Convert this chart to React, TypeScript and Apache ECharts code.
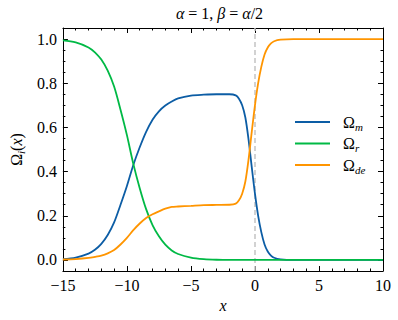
import React, { useEffect, useRef } from "react";
import * as echarts from "echarts";

const xs = [-15, -14, -13, -12.5, -12, -11.5, -11, -10.5, -10, -9.5, -9, -8.5, -8, -7.5, -7, -6.5, -6, -5, -4, -3, -2, -1.5, -1.25, -1, -0.75, -0.5, -0.25, 0, 0.25, 0.5, 0.75, 1, 1.25, 1.5, 2, 3, 5, 10];
const omegaM = [0.004, 0.011, 0.029, 0.046, 0.073, 0.113, 0.17, 0.25, 0.335, 0.43, 0.51, 0.58, 0.635, 0.673, 0.699, 0.717, 0.731, 0.744, 0.748, 0.75, 0.75, 0.745, 0.73, 0.7, 0.645, 0.545, 0.42, 0.3, 0.2, 0.125, 0.07, 0.038, 0.02, 0.01, 0.003, 0, 0, 0];
const omegaR = [0.994, 0.985, 0.962, 0.94, 0.907, 0.857, 0.785, 0.68, 0.565, 0.435, 0.325, 0.23, 0.158, 0.107, 0.069, 0.043, 0.027, 0.011, 0.004, 0.001, 0, 0, 0, 0, 0, 0, 0, 0, 0, 0, 0, 0, 0, 0, 0, 0, 0, 0];
const omegaDE = [0.002, 0.004, 0.009, 0.014, 0.02, 0.03, 0.045, 0.07, 0.1, 0.135, 0.165, 0.19, 0.207, 0.22, 0.232, 0.24, 0.242, 0.245, 0.248, 0.249, 0.25, 0.255, 0.27, 0.3, 0.355, 0.455, 0.58, 0.7, 0.8, 0.875, 0.93, 0.962, 0.98, 0.99, 0.997, 1, 1, 1];
const seriesNames = ["m", "r", "de"];
const seriesColors = ["#0C5DA5", "#00B945", "#FF9500"];
const yMajor = [0, 0.2, 0.4, 0.6, 0.8, 1.0];
const yMinor = [0.05, 0.1, 0.15, 0.25, 0.3, 0.35, 0.45, 0.5, 0.55, 0.65, 0.7, 0.75, 0.85, 0.9, 0.95];
const titleText = "{i|α} = 1, {i|β} = {i|α}/2";

const FONT = "Liberation Serif";

export default function App() {
  const ref = useRef<HTMLDivElement>(null);
  useEffect(() => {
    if (!ref.current) return;
    const chart = echarts.init(ref.current, null, { renderer: "svg" });
    const valuesList = [omegaM, omegaR, omegaDE];
    const common = { color: "#000", fontFamily: FONT, fontSize: 16 };
    const xAxisBase = (pos: string, showLabel: boolean) => ({
      type: "value",
      position: pos,
      min: -15,
      max: 10,
      interval: 5,
      axisLine: { show: true, onZero: false, lineStyle: { color: "#000", width: 1 } },
      axisTick: { show: true, inside: true, length: 5, lineStyle: { color: "#000" } },
      minorTick: { show: true, splitNumber: 5, length: 2.5, lineStyle: { color: "#000" } },
      splitLine: { show: false },
      minorSplitLine: { show: false },
      axisLabel: {
        show: showLabel,
        ...common,
        margin: 6,
        formatter: (v: number) => String(v).replace("-", "\u2212"),
      },
    });
    const yAxisBase = (pos: string, major: boolean, showLabel: boolean) => ({
      type: "value",
      position: pos,
      min: -0.05,
      max: 1.05,
      axisLine: { show: major, onZero: false, lineStyle: { color: "#000", width: 1 } },
      axisTick: {
        show: true,
        inside: true,
        length: major ? 5 : 2.5,
        customValues: major ? yMajor : yMinor,
        lineStyle: { color: "#000" },
      },
      splitLine: { show: false },
      axisLabel: {
        show: showLabel,
        ...common,
        margin: 6,
        customValues: yMajor,
        formatter: (v: number) => v.toFixed(1),
      },
    });
    const yAxes: any[] = [
      { ...yAxisBase("left", true, true),
        name: "{o|Ω}{s|i}{n|(}{it|x}{n|)}",
        nameLocation: "middle",
        nameGap: 36,
        nameRotate: 90,
        nameTextStyle: {
          ...common,
          rich: {
            o: { fontFamily: FONT, fontSize: 16, lineHeight: 20, color: "#000" },
            s: { fontFamily: FONT, fontSize: 11, fontStyle: "italic", lineHeight: 11, verticalAlign: "bottom", color: "#000" },
            n: { fontFamily: FONT, fontSize: 16, lineHeight: 20, color: "#000" },
            it: { fontFamily: FONT, fontSize: 16, fontStyle: "italic", lineHeight: 20, color: "#000" },
          },
        },
      },
      yAxisBase("left", false, false),
      yAxisBase("right", true, false),
      yAxisBase("right", false, false),
    ];
    const series: any[] = seriesNames.map((n, k) => ({
      name: n,
      type: "line",
      xAxisIndex: 0,
      yAxisIndex: 0,
      symbol: "none",
      smooth: 0.3,
      lineStyle: { width: 1.8, color: seriesColors[k] },
      itemStyle: { color: seriesColors[k] },
      data: xs.map((x, i) => [x, valuesList[k][i]]),
      z: 3,
    }));
    series[0].markLine = {
      silent: true,
      symbol: ["none", "none"],
      label: { show: false },
      lineStyle: { color: "#c4c4c4", type: [5, 3], width: 1.5 },
      data: [{ xAxis: 0 }],
      z: 1,
    };
    chart.setOption({
      animation: false,
      textStyle: { fontFamily: FONT },
      grid: { left: 56, right: 15, top: 28, bottom: 49 },
      xAxis: [
        { ...xAxisBase("bottom", true), name: "x", nameLocation: "middle", nameGap: 25,
          nameTextStyle: { ...common, fontStyle: "italic" } },
        xAxisBase("top", false),
      ],
      yAxis: yAxes,
      legend: {
        orient: "vertical",
        left: 295,
        top: 114,
        padding: 0,
        icon: "rect",
        itemWidth: 35,
        itemHeight: 2,
        itemGap: 3.5,
        data: seriesNames,
        formatter: (name: string) => `{g|}{o|Ω}{s|${name}}`,
        textStyle: {
          ...common,
          rich: {
            g: { width: 8 },
            o: { fontFamily: FONT, fontSize: 16, lineHeight: 20, color: "#000" },
            s: { fontFamily: FONT, fontSize: 11, fontStyle: "italic", lineHeight: 11, verticalAlign: "bottom", color: "#000" },
          },
        },
      },
      graphic: [
        {
          type: "text",
          x: 219.5,
          y: 13,
          style: {
            text: titleText,
            fontFamily: FONT,
            fontSize: 16,
            fill: "#000",
            align: "center",
            verticalAlign: "middle",
            rich: {
              i: { fontFamily: FONT, fontSize: 16, fontStyle: "italic", fill: "#000" },
            },
          },
        },
      ],
      series,
    });
    return () => chart.dispose();
  }, []);
  return <div ref={ref} style={{ width: 398, height: 320, position: "absolute", left: 0, top: 0 }} />;
}
